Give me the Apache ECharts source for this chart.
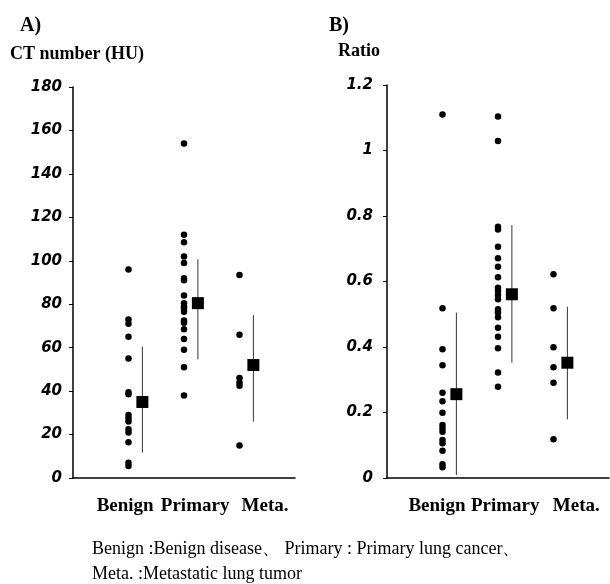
<!DOCTYPE html>
<html>
<head>
<meta charset="utf-8">
<script src="https://cdn.jsdelivr.net/npm/echarts@6/dist/echarts.min.js"></script>
<style>
  html, body { margin: 0; padding: 0; background: #fff; }
  #main { width: 610px; height: 584px; }
</style>
</head>
<body>
<div id="main"></div>
<script>
// groups and their slot on the x axis
var groups = ['Benign', 'Primary', 'Meta.'];
var groupPos = [1, 2, 3];
var meanShift = 0.25;

// A) CT number (HU)
var benignCT = [96, 73, 71, 65, 55, 39.5, 38.5, 29, 27.5, 26, 22.5, 21, 16.5, 7, 5.5];
var primaryCT = [154, 112, 108.5, 102, 99, 92, 91, 84, 80.5, 79, 78, 76.5, 72.5, 71.5, 68.5, 64, 59, 51, 38];
var metaCT = [93.5, 66, 46, 44, 42.5, 15];
var meanCT = [35, 80.5, 52];
var lowCT = [11.7, 54.6, 26];
var highCT = [60.5, 100.7, 75];

// B) Ratio
var benignR = [1.11, 0.518, 0.393, 0.344, 0.26, 0.234, 0.199, 0.162, 0.152, 0.141, 0.116, 0.106, 0.083, 0.042, 0.033];
var primaryR = [1.104, 1.029, 0.767, 0.759, 0.706, 0.671, 0.645, 0.613, 0.581, 0.571, 0.559, 0.546, 0.515, 0.505, 0.491, 0.459, 0.431, 0.396, 0.322, 0.279];
var metaR = [0.622, 0.518, 0.399, 0.338, 0.291, 0.118];
var meanR = [0.256, 0.561, 0.352];
var lowR = [0.009, 0.352, 0.179];
var highR = [0.505, 0.772, 0.523];

var myChart = echarts.init(document.getElementById('main'));

var serif = '"Liberation Serif", "DejaVu Serif", serif';
var sans = '"DejaVu Sans", "Liberation Sans", sans-serif';

function dots(vals, g, idx) {
  return {
    type: 'scatter', xAxisIndex: idx, yAxisIndex: idx,
    symbol: 'circle', symbolSize: 6.5,
    itemStyle: { color: '#000', opacity: 1 },
    data: vals.map(function (v) { return [groupPos[g], v]; }),
    z: 3
  };
}

function means(m, idx) {
  return {
    type: 'scatter', xAxisIndex: idx, yAxisIndex: idx,
    symbol: 'rect', symbolSize: 12,
    itemStyle: { color: '#000', opacity: 1 },
    data: m.map(function (v, i) { return [groupPos[i] + meanShift, v]; }),
    z: 4
  };
}

function bars(lo, hi, idx) {
  return {
    type: 'custom', xAxisIndex: idx, yAxisIndex: idx,
    data: lo.map(function (v, i) { return [groupPos[i] + meanShift, v, hi[i]]; }),
    renderItem: function (params, api) {
      var a = api.coord([api.value(0), api.value(1)]);
      var b = api.coord([api.value(0), api.value(2)]);
      return {
        type: 'line',
        shape: { x1: a[0], y1: a[1], x2: b[0], y2: b[1] },
        style: { stroke: '#333', lineWidth: 1 }
      };
    },
    z: 2
  };
}

// where the group names sit under each panel
function xAxisFor(idx, labelPos) {
  return {
    type: 'value', gridIndex: idx, min: 0, max: 4,
    splitLine: { show: false },
    axisTick: { show: false },
    axisLine: { lineStyle: { color: '#000', width: 1.5 } },
    axisLabel: {
      customValues: labelPos,
      formatter: function (v) {
        var k = labelPos.indexOf(v);
        return k >= 0 ? groups[k] : '';
      },
      margin: 19,
      fontFamily: serif, fontWeight: 'bold', fontSize: 19, color: '#000'
    }
  };
}

function yAxisFor(idx, max, interval, margin) {
  return {
    type: 'value', gridIndex: idx, min: 0, max: max, interval: interval,
    splitLine: { show: false },
    axisLine: { show: true, lineStyle: { color: '#000', width: 1.5 } },
    axisTick: { show: true, length: 4, lineStyle: { color: '#000' } },
    axisLabel: {
      margin: margin,
      fontFamily: sans, fontStyle: 'italic', fontWeight: 'bold', fontSize: 15, color: '#000'
    }
  };
}

option = {
  animation: false,
  backgroundColor: '#fff',
  grid: [
    { left: 73, right: 315, top: 87, bottom: 106 },
    { left: 387, right: 1, top: 85, bottom: 106 }
  ],
  xAxis: [
    xAxisFor(0, [0.94, 2.2, 3.46]),
    xAxisFor(1, [0.9, 2.13, 3.41])
  ],
  yAxis: [
    yAxisFor(0, 180, 20, 11),
    yAxisFor(1, 1.2, 0.2, 14)
  ],
  graphic: [
    { type: 'text', left: 20, top: 16, style: { text: 'A)', font: 'bold 20px ' + serif, fill: '#000' } },
    { type: 'text', left: 10, top: 45, style: { text: 'CT number (HU)', font: 'bold 18px ' + serif, fill: '#000' } },
    { type: 'text', left: 329, top: 16, style: { text: 'B)', font: 'bold 20px ' + serif, fill: '#000' } },
    { type: 'text', left: 338, top: 42, style: { text: 'Ratio', font: 'bold 18px ' + serif, fill: '#000' } },
    { type: 'text', left: 92, top: 540, style: { text: 'Benign :Benign disease、 Primary : Primary lung cancer、', font: '18px ' + serif, fill: '#000' } },
    { type: 'text', left: 92, top: 565, style: { text: 'Meta. :Metastatic lung tumor', font: '18px ' + serif, fill: '#000' } }
  ],
  series: [
    dots(benignCT, 0, 0), dots(primaryCT, 1, 0), dots(metaCT, 2, 0),
    means(meanCT, 0), bars(lowCT, highCT, 0),
    dots(benignR, 0, 1), dots(primaryR, 1, 1), dots(metaR, 2, 1),
    means(meanR, 1), bars(lowR, highR, 1)
  ]
};

myChart.setOption(option);
</script>
</body>
</html>
